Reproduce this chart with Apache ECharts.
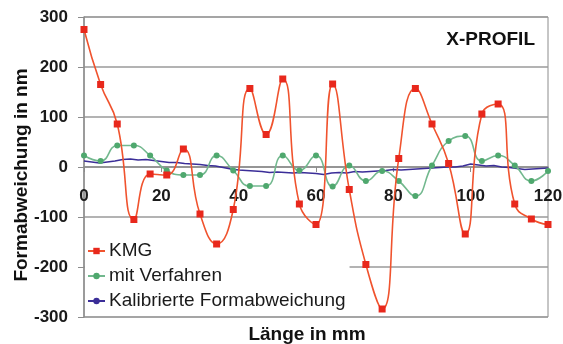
<!DOCTYPE html>
<html>
<head>
<meta charset="utf-8">
<script src="https://cdn.jsdelivr.net/npm/echarts@6/dist/echarts.min.js"></script>
<style>html,body{margin:0;padding:0;background:#fff}#c{width:563px;height:344px}</style>
</head>
<body>
<div id="c"></div>
<script>
var sampleX = [0, 4.3, 8.6, 12.9, 17.1, 21.4, 25.7, 30, 34.3, 38.6, 42.9, 47.1, 51.4, 55.7, 60, 64.3, 68.6, 72.9, 77.1, 81.4, 85.7, 90, 94.3, 98.6, 102.9, 107.1, 111.4, 115.7, 120];
var kmg = [275, 165, 86, -105, -14, -16, 36, -94, -154, -85, 157, 65, 176, -74, -115, 166, -45, -195, -284, 17, 157, 86, 7, -134, 106, 126, -74, -104, -115];
var mitVerfahren = [23, 12, 43, 43, 23, -7, -16, -16, 23, -7, -38, -38, 23, -7, 23, -39, 3, -28, -8, -28, -58, 3, 52, 62, 12, 23, 3, -28, -8];
var calX = [0,2,4,6,8,10,12,14,16,18,20,22,24,26,28,30,32,34,36,38,40,42,44,46,48,50,52,54,56,58,60,62,64,66,68,70,72,74,76,78,80,82,84,86,88,90,92,94,96,98,100,102,104,106,108,110,112,114,116,118,120];
var kalibriert = [12,10,8,10,12,15,16,14,15,13,11,9,9,7,6,5,3,2,-1,-4,-6,-7,-8,-9,-11,-10,-11,-12,-11,-12,-13,-15,-12,-11,-12,-9,-10,-9,-8,-7,-5,-6,-5,-4,-3,-2,-1,0,0,2,6,4,2,3,0,-1,-3,-5,-4,-3,-2];
var yTicks = [-300, -200, -100, 0, 100, 200, 300];
var xTicks = [0, 20, 40, 60, 80, 100, 120];

function pairs(xs, ys) { return ys.map(function (v, i) { return [xs[i], v]; }); }

var FONT = '"Liberation Sans", Arial, sans-serif';
var chart = echarts.init(document.getElementById('c'), null, {renderer: 'canvas'});
chart.setOption({
  animation: false,
  backgroundColor: '#fff',
  title: {
    text: 'X-PROFIL', right: 28, top: 30, padding: 0,
    textStyle: {fontFamily: FONT, fontSize: 19, fontWeight: 'bold', color: '#111'}
  },
  grid: {left: 84, right: 15, top: 17, bottom: 27, show: true, borderColor: '#8c8c8c', borderWidth: 1, containLabel: false, outerBoundsMode: 'none'},
  xAxis: {
    type: 'value', min: xTicks[0], max: xTicks[xTicks.length - 1], interval: 20,
    position: 'bottom', offset: -150,
    axisLine: {onZero: false, lineStyle: {color: '#8c8c8c', width: 1.5}},
    axisTick: {show: true, inside: false, length: 5, lineStyle: {color: '#8c8c8c'}},
    splitLine: {show: false},
    axisLabel: {margin: 21, fontFamily: FONT, fontSize: 17, fontWeight: 'bold', color: '#1a1a1a', showMinLabel: true, showMaxLabel: true}
  },
  yAxis: {
    type: 'value', min: yTicks[0], max: yTicks[yTicks.length - 1], interval: 100,
    axisLine: {show: true, onZero: false, lineStyle: {color: '#8c8c8c', width: 1.5}},
    axisTick: {show: true, inside: false, length: 6, lineStyle: {color: '#8c8c8c'}},
    splitLine: {show: true, lineStyle: {color: '#9a9a9a', width: 1.5}},
    axisLabel: {margin: 16, fontFamily: FONT, fontSize: 17, fontWeight: 'bold', color: '#1a1a1a'}
  },
  legend: {
    orient: 'vertical', left: 85, top: 228, padding: [13, 4, 5, 2],
    backgroundColor: '#fff', itemWidth: 17, itemHeight: 8, itemGap: 5,
    textStyle: {fontFamily: FONT, fontSize: 19, color: '#1a1a1a', lineHeight: 20, padding: [0, 0, 0, -1]},
    data: ['KMG', 'mit Verfahren', 'Kalibrierte Formabweichung']
  },
  graphic: [
    {type: 'text', x: 22, y: 175, rotation: Math.PI / 2,
      style: {text: 'Formabweichung in nm', font: 'bold 19px ' + FONT, fill: '#111', align: 'center', verticalAlign: 'middle'}},
    {type: 'text', x: 307, y: 335,
      style: {text: 'Länge in mm', font: 'bold 19px ' + FONT, fill: '#111', align: 'center', verticalAlign: 'middle'}}
  ],
  series: [
    {name: 'KMG', type: 'line', data: pairs(sampleX, kmg), smooth: 0.5, symbol: 'rect', symbolSize: 7,
      lineStyle: {color: '#f0532e', width: 1.6}, itemStyle: {color: '#e8281c'}, z: 4},
    {name: 'mit Verfahren', type: 'line', data: pairs(sampleX, mitVerfahren), smooth: 0.5, symbol: 'circle', symbolSize: 6,
      lineStyle: {color: '#72b88e', width: 1.6}, itemStyle: {color: '#4fa86e'}, z: 3},
    {name: 'Kalibrierte Formabweichung', type: 'line', data: pairs(calX, kalibriert), smooth: false, showSymbol: false, symbol: 'none',
      lineStyle: {color: '#3b2e98', width: 1.5}, itemStyle: {color: '#3b2e98'}, z: 2}
  ]
});
</script>
</body>
</html>
